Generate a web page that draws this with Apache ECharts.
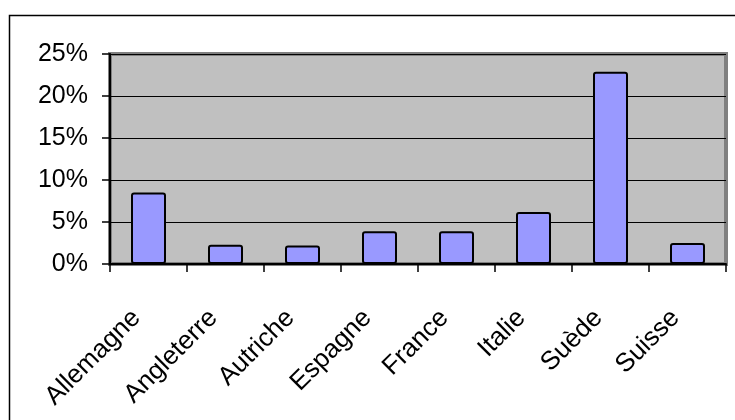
<!DOCTYPE html>
<html>
<head>
<meta charset="utf-8">
<script src="https://cdn.jsdelivr.net/npm/echarts@6/dist/echarts.min.js"></script>
<style>html,body{margin:0;padding:0;background:#fff}#c{width:735px;height:420px}</style>
</head>
<body>
<div id="c"></div>
<script>
var categories = ['Allemagne', 'Angleterre', 'Autriche', 'Espagne', 'France', 'Italie', 'Suède', 'Suisse'];
var values = [8.5, 2.3, 2.2, 3.9, 3.9, 6.2, 22.9, 2.5];
var yTicks = [0, 5, 10, 15, 20, 25];

var FONT = "'Liberation Sans', Arial, sans-serif";
var chart = echarts.init(document.getElementById('c'), null, {renderer: 'canvas'});
chart.setOption({
  animation: false,
  backgroundColor: '#ffffff',
  graphic: [{
    type: 'rect', left: 7, top: 13, z: -10,
    shape: {width: 780, height: 460},
    style: {fill: 'none', stroke: '#000', lineWidth: 1.5}
  }],
  grid: {
    left: 110, right: 9, top: 54, bottom: 156,
    show: true, backgroundColor: '#c0c0c0', borderColor: '#808080', borderWidth: 4
  },
  xAxis: {
    type: 'category',
    data: categories,
    axisLine: {lineStyle: {color: '#000', width: 2}},
    axisTick: {show: true, length: 8, lineStyle: {color: '#000', width: 1.5}},
    axisLabel: {
      rotate: 45, margin: 38, padding: [0, 17, 0, 0], color: '#000',
      fontFamily: FONT, fontSize: 26, interval: 0
    }
  },
  yAxis: {
    type: 'value',
    min: yTicks[0], max: yTicks[yTicks.length - 1], interval: 5,
    axisLine: {show: true, lineStyle: {color: '#000', width: 2}},
    axisTick: {show: true, length: 8, lineStyle: {color: '#000', width: 1.5}},
    splitLine: {show: true, lineStyle: {color: '#000', width: 1}},
    axisLabel: {
      formatter: '{value}%', margin: 22, color: '#000',
      fontFamily: FONT, fontSize: 25
    }
  },
  series: [{
    type: 'bar',
    data: values,
    barWidth: 35,
    itemStyle: {color: '#9999ff', borderColor: '#000', borderWidth: 2, borderRadius: 2}
  }]
});
</script>
</body>
</html>
